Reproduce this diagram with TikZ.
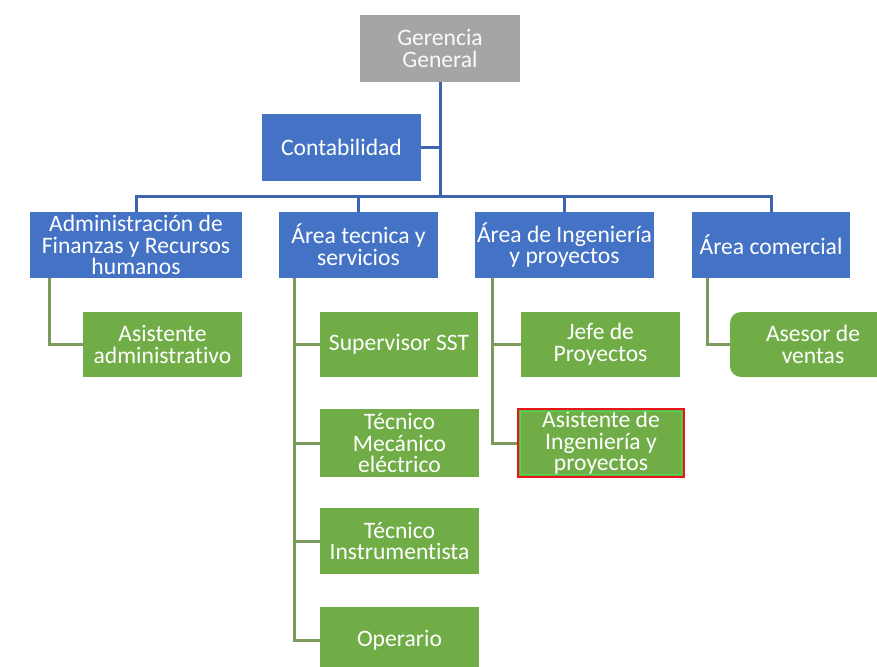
\documentclass[tikz,border=0pt]{standalone}
\usepackage{fontspec}
\setmainfont{Carlito}[Ligatures=NoCommon]
\begin{document}
\begin{tikzpicture}[x=1pt,y=-1pt,
  box/.style={rectangle, inner sep=0pt, align=center, text=white,
    font=\fontsize{23.6}{21.7}\selectfont},
  boss/.style={box, fill=ggray, text=white!95!ggray},
  dept/.style={box, fill=oblue},
  role/.style={box, fill=ogreen},
  bline/.style={draw=lblue, line width=3pt},
  gline/.style={draw=lgreen, line width=3pt}]
\definecolor{ggray}{HTML}{A5A5A5}
\definecolor{oblue}{HTML}{4472C4}
\definecolor{ogreen}{HTML}{70AD47}
\definecolor{lblue}{HTML}{3E64AE}
\definecolor{lgreen}{HTML}{7A9B5C}
\definecolor{hired}{HTML}{E8141E}
\definecolor{higreen}{HTML}{3FE04A}
\clip (0,0) rectangle (877,666);
\fill[white] (0,0) rectangle (877,666);

% top level
\node[boss, minimum width=160pt, minimum height=67pt] (gg) at (440,48.5) {Gerencia\\General};
\node[dept, minimum width=159pt, minimum height=67pt] (cont) at (341.5,147.5) {Contabilidad};

% departments
\node[dept, minimum width=212pt, minimum height=66pt] (adm) at (136,245) {Administración de\\Finanzas y Recursos\\humanos};
\node[dept, minimum width=159pt, minimum height=66pt] (tec) at (358.5,245) {Área tecnica y\\servicios};
\node[dept, minimum width=179pt, minimum height=66pt] (ing) at (564.5,245) {Área de Ingeniería\\y proyectos};
\node[dept, minimum width=158pt, minimum height=66pt] (com) at (771,245) {Área comercial};

% roles
\node[role, minimum width=159pt, minimum height=65pt] (asadm) at (162.5,344.5) {Asistente\\administrativo};
\node[role, minimum width=158pt, minimum height=65pt] (sst) at (399,344.5) {Supervisor SST};
\node[role, minimum width=159pt, minimum height=68pt] (mec) at (399.5,443) {Técnico\\Mecánico\\eléctrico};
\node[role, minimum width=159pt, minimum height=66pt] (ins) at (399.5,541) {Técnico\\Instrumentista};
\node[role, minimum width=159pt, minimum height=66pt] (ope) at (399.5,640) {Operario};
\node[role, minimum width=159pt, minimum height=65pt] (jefe) at (600.5,344.5) {Jefe de\\Proyectos};
\node[role, minimum width=166pt, minimum height=68pt, draw=hired, line width=2.6pt] (asing) at (601,443) {Asistente de\\Ingeniería y\\proyectos};
\draw[higreen, line width=0.6pt] ([xshift=4pt,yshift=-4pt]asing.north west) rectangle ([xshift=-4pt,yshift=4pt]asing.south east);
\node[role, rounded corners=11pt, minimum width=166pt, minimum height=65pt] (ase) at (813,344.5) {Asesor de\\ventas};

% upper connectors
\coordinate (bus) at (440,196);
\draw[bline] (gg.south) -- (bus);
\draw[bline] (cont.east) -- (cont.east -| gg.south);
\draw[bline] (adm.north) -- (adm.north |- bus) -- (com.north |- bus) -- (com.north);
\draw[bline] (tec.north) -- (tec.north |- bus);
\draw[bline] (ing.north) -- (ing.north |- bus);

% role connectors
\coordinate (admspine) at (49,278);
\coordinate (tecspine) at (294,278);
\coordinate (ingspine) at (492,278);
\coordinate (comspine) at (707,278);
\draw[gline] (admspine) |- (asadm.west);
\draw[gline] (tecspine) |- (ope.west);
\draw[gline] (tecspine |- sst.west) -- (sst.west);
\draw[gline] (tecspine |- mec.west) -- (mec.west);
\draw[gline] (tecspine |- ins.west) -- (ins.west);
\draw[gline] (ingspine) |- (asing.west);
\draw[gline] (ingspine |- jefe.west) -- (jefe.west);
\draw[gline] (comspine) |- (ase.west);
\end{tikzpicture}
\end{document}
